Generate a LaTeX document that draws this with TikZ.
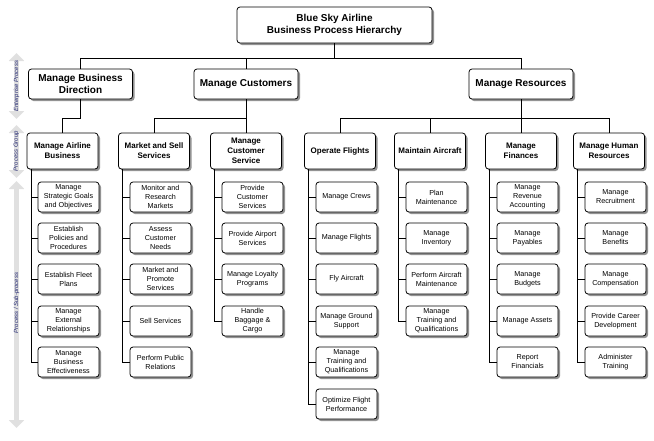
\documentclass[tikz,border=0pt]{standalone}
\usepackage{fontspec}
\setmainfont{Liberation Sans}
\usetikzlibrary{shadows,arrows.meta}
\definecolor{sidetext}{RGB}{30,35,110}
\definecolor{sidearrow}{RGB}{224,224,224}
\begin{document}
\begin{tikzpicture}[x=1pt,y=-1pt,
  box/.style={draw, rounded corners=3pt, fill=white, line width=0.8pt,
    drop shadow={shadow xshift=2pt, shadow yshift=-2pt, fill=gray!85, opacity=1},
    align=center, inner sep=1pt},
  topbox/.style={box, minimum width=195pt, minimum height=36pt, font=\fontsize{10}{12}\selectfont\bfseries},
  lone/.style={box, minimum width=104pt, minimum height=30pt, font=\fontsize{10}{12}\selectfont\bfseries},
  ltwo/.style={box, minimum width=71pt, minimum height=36pt, font=\fontsize{8}{10}\selectfont\bfseries},
  leaf/.style={box, minimum width=61pt, minimum height=30pt, font=\fontsize{7.2}{9}\selectfont},
  conn/.style={line width=0.8pt},
  sidearr/.style={line width=5pt, sidearrow, {Triangle[width=15pt,length=8pt]}-{Triangle[width=15pt,length=8pt]}},
  sidelab/.style={rotate=90, text=sidetext, font=\fontsize{6}{7}\selectfont\itshape, inner sep=0pt}
]
\useasboundingbox (0,0) rectangle (654,440);

% side arrows
\coordinate (e1) at (16.5,53);  \coordinate (e2) at (16.5,119);
\coordinate (g1) at (16.5,125); \coordinate (g2) at (16.5,178);
\coordinate (s1) at (16.5,181); \coordinate (s2) at (16.5,428);
\draw[sidearr] (e1) -- (e2);
\draw[sidearr] (g1) -- (g2);
\draw[sidearr] (s1) -- (s2);
\node[sidelab] (le) at (16.5,86) {Enterprise Process};
\node[sidelab] (lg) at (16.5,151) {Process Group};
\node[sidelab] (ls) at (16.5,303) {Process / Sub-process};

% top
\node[topbox] (top) at (334.5,25) {Blue Sky Airline\\Business Process Hierarchy};

% level 1
\node[lone] (mbd) at (80.5,84) {Manage Business\\Direction};
\node[lone] (mc) at (246,84) {Manage Customers};
\node[lone] (mr) at (521,84) {Manage Resources};

% level 2
\node[ltwo] (mab) at (62.5,151) {Manage Airline\\Business};
\node[ltwo] (mss) at (154,151) {Market and Sell\\Services};
\node[ltwo] (mcs) at (246,151) {Manage\\Customer\\Service};
\node[ltwo] (of) at (340,151) {Operate Flights};
\node[ltwo] (ma) at (430,151) {Maintain Aircraft};
\node[ltwo] (mf) at (521,151) {Manage\\Finances};
\node[ltwo] (mhr) at (609,151) {Manage Human\\Resources};

% connectors top -> level 1
\draw[conn] (top.south) -- ++(0,15) -| (mbd.north);
\draw[conn] (top.south) -- ++(0,15) -| (mc.north);
\draw[conn] (top.south) -- ++(0,15) -| (mr.north);

% connectors level 1 -> level 2
\draw[conn] (mbd.south) -- ++(0,19) -| (mab.north);
\draw[conn] (mc.south) -- (mcs.north);
\draw[conn] (mc.south) -- ++(0,19) -| (mss.north);
\draw[conn] (mr.south) -- (mf.north);
\draw[conn] (mr.south) -- ++(0,19) -| (of.north);
\draw[conn] (mr.south) -- ++(0,19) -| (ma.north);
\draw[conn] (mr.south) -- ++(0,19) -| (mhr.north);

% leaves column 1
\node[leaf] (a1) at (68.5,197) {Manage\\Strategic Goals\\and Objectives};
\node[leaf] (a2) at (68.5,238) {Establish\\Policies and\\Procedures};
\node[leaf] (a3) at (68.5,279) {Establish Fleet\\Plans};
\node[leaf] (a4) at (68.5,321) {Manage\\External\\Relationships};
\node[leaf] (a5) at (68.5,362) {Manage\\Business\\Effectiveness};
% column 2
\node[leaf] (b1) at (160.5,197) {Monitor and\\Research\\Markets};
\node[leaf] (b2) at (160.5,238) {Assess\\Customer\\Needs};
\node[leaf] (b3) at (160.5,279) {Market and\\Promote\\Services};
\node[leaf] (b4) at (160.5,321) {Sell Services};
\node[leaf] (b5) at (160.5,362) {Perform Public\\Relations};
% column 3
\node[leaf] (c1) at (252.5,197) {Provide\\Customer\\Services};
\node[leaf] (c2) at (252.5,238) {Provide Airport\\Services};
\node[leaf] (c3) at (252.5,279) {Manage Loyalty\\Programs};
\node[leaf] (c4) at (252.5,321) {Handle\\Baggage \&\\Cargo};
% column 4
\node[leaf] (d1) at (346.5,197) {Manage Crews};
\node[leaf] (d2) at (346.5,238) {Manage Flights};
\node[leaf] (d3) at (346.5,279) {Fly Aircraft};
\node[leaf] (d4) at (346.5,321) {Manage Ground\\Support};
\node[leaf] (d5) at (346.5,362) {Manage\\Training and\\Qualifications};
\node[leaf] (d6) at (346.5,404) {Optimize Flight\\Performance};
% column 5
\node[leaf] (e1n) at (436.5,197) {Plan\\Maintenance};
\node[leaf] (e2n) at (436.5,238) {Manage\\Inventory};
\node[leaf] (e3n) at (436.5,279) {Perform Aircraft\\Maintenance};
\node[leaf] (e4n) at (436.5,321) {Manage\\Training and\\Qualifications};
% column 6
\node[leaf] (f1) at (527.5,197) {Manage\\Revenue\\Accounting};
\node[leaf] (f2) at (527.5,238) {Manage\\Payables};
\node[leaf] (f3) at (527.5,279) {Manage\\Budgets};
\node[leaf] (f4) at (527.5,321) {Manage Assets};
\node[leaf] (f5) at (527.5,362) {Report\\Financials};
% column 7
\node[leaf] (h1) at (615.5,197) {Manage\\Recruitment};
\node[leaf] (h2) at (615.5,238) {Manage\\Benefits};
\node[leaf] (h3) at (615.5,279) {Manage\\Compensation};
\node[leaf] (h4) at (615.5,321) {Provide Career\\Development};
\node[leaf] (h5) at (615.5,362) {Administer\\Training};

% leaf connectors
\foreach \p/\list in {mab/{a1,a2,a3,a4,a5}, mss/{b1,b2,b3,b4,b5}, mcs/{c1,c2,c3,c4},
  of/{d1,d2,d3,d4,d5,d6}, ma/{e1n,e2n,e3n,e4n}, mf/{f1,f2,f3,f4,f5}, mhr/{h1,h2,h3,h4,h5}}{
  \foreach \l in \list {
    \draw[conn] ([xshift=4.5pt]\p.south west) |- (\l.west);
  }
}
\end{tikzpicture}
\end{document}
